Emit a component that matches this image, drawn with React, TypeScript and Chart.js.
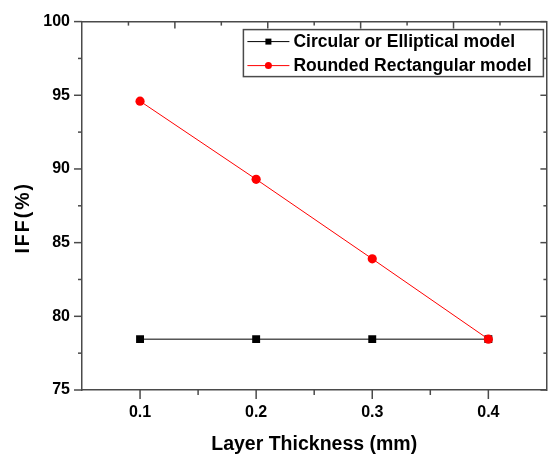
import React, { useEffect, useRef } from 'react';
import { Chart, registerables } from 'chart.js';

Chart.register(...registerables);

// ---- data ----
const layerThickness = [0.1, 0.2, 0.3, 0.4];
const circularIFF = [78.45, 78.45, 78.45, 78.45];
const roundedIFF = [94.6, 89.3, 83.9, 78.45];
const seriesNames = ['Circular or Elliptical model', 'Rounded Rectangular model'];
const xTitle = 'Layer Thickness (mm)';
const yTitle = 'IFF(%)';
const xMajorTicks = [0.1, 0.2, 0.3, 0.4];
const xMinorTicks = [0.15, 0.25, 0.35];
const yMajorTicks = [75, 80, 85, 90, 95, 100];
const yMinorTicks = [77.5, 82.5, 87.5, 92.5, 97.5];
const topMajorTicks = [2, 4, 6, 8];
const topMinorTicks = [1, 3, 5, 7, 9];

const FONT = "'Liberation Sans', Arial, sans-serif";
const AXIS = '#4a4a4a';
const BLACK = '#000000';
const RED = '#ff0000';

const frameTicksPlugin = {
  id: 'frameTicks',
  afterDraw(chart: any) {
    const { ctx, chartArea, scales } = chart;
    const { left, right, top, bottom } = chartArea;
    ctx.save();
    ctx.strokeStyle = AXIS;
    ctx.lineWidth = 1.5;
    const seg = (x1: number, y1: number, x2: number, y2: number) => {
      ctx.beginPath();
      ctx.moveTo(x1, y1);
      ctx.lineTo(x2, y2);
      ctx.stroke();
    };
    xMajorTicks.forEach((v) => {
      const x = scales.x.getPixelForValue(v);
      seg(x, bottom, x, bottom + 9);
    });
    xMinorTicks.forEach((v) => {
      const x = scales.x.getPixelForValue(v);
      seg(x, bottom, x, bottom + 5);
    });
    yMajorTicks.forEach((v) => {
      const y = scales.y.getPixelForValue(v);
      seg(left - 8, y, left, y);
      seg(right, y, right - 6, y);
    });
    yMinorTicks.forEach((v) => {
      const y = scales.y.getPixelForValue(v);
      seg(left - 4, y, left, y);
      seg(right, y, right - 3, y);
    });
    topMajorTicks.forEach((v) => {
      const x = scales.x2.getPixelForValue(v);
      seg(x, top, x, top + 7);
    });
    topMinorTicks.forEach((v) => {
      const x = scales.x2.getPixelForValue(v);
      seg(x, top, x, top + 4);
    });
    ctx.restore();
  },
};

const yTitlePlugin = {
  id: 'yTitle',
  afterDraw(chart: any) {
    const { ctx, chartArea } = chart;
    const cy = (chartArea.top + chartArea.bottom) / 2 + 13;
    ctx.save();
    ctx.translate(24, cy);
    ctx.rotate(-Math.PI / 2);
    ctx.fillStyle = '#000';
    ctx.font = `bold 19.5px ${FONT}`;
    try {
      (ctx as any).letterSpacing = '2px';
    } catch (e) {}
    ctx.textAlign = 'center';
    ctx.textBaseline = 'middle';
    ctx.fillText(yTitle, 1, 0);
    ctx.restore();
  },
};

const boxLegendPlugin = {
  id: 'boxLegend',
  afterDraw(chart: any) {
    const { ctx, chartArea } = chart;
    const boxRight = chartArea.right - 3;
    const boxLeft = boxRight - 300;
    const boxTop = chartArea.top + 8;
    const boxH = 47;
    ctx.save();
    ctx.fillStyle = '#ffffff';
    ctx.fillRect(boxLeft, boxTop, 300, boxH);
    ctx.strokeStyle = AXIS;
    ctx.lineWidth = 1.5;
    ctx.strokeRect(boxLeft, boxTop, 300, boxH);
    const colors = [BLACK, RED];
    seriesNames.forEach((name, i) => {
      const cy = boxTop + 12 + i * 24;
      const lx1 = boxLeft + 4;
      const lx2 = boxLeft + 46;
      const mx = (lx1 + lx2) / 2;
      ctx.strokeStyle = colors[i];
      ctx.lineWidth = 1;
      ctx.beginPath();
      ctx.moveTo(lx1, cy);
      ctx.lineTo(lx2, cy);
      ctx.stroke();
      ctx.fillStyle = colors[i];
      if (i === 0) {
        ctx.fillRect(mx - 3, cy - 3, 6, 6);
      } else {
        ctx.beginPath();
        ctx.arc(mx, cy, 3.5, 0, Math.PI * 2);
        ctx.fill();
      }
      ctx.fillStyle = '#000000';
      ctx.font = `bold 17.5px ${FONT}`;
      ctx.textAlign = 'left';
      ctx.textBaseline = 'middle';
      ctx.fillText(name, boxLeft + 50, cy + 1);
    });
    ctx.restore();
  },
};

export default function App() {
  const canvasRef = useRef<HTMLCanvasElement | null>(null);

  useEffect(() => {
    const canvas = canvasRef.current;
    if (!canvas) return;
    const chart = new Chart(canvas, {
      type: 'line',
      data: {
        datasets: [
          {
            label: seriesNames[0],
            data: layerThickness.map((x, i) => ({ x, y: circularIFF[i] })),
            borderColor: BLACK,
            backgroundColor: BLACK,
            borderWidth: 1,
            pointStyle: 'rect',
            pointRadius: 5.6,
            pointBorderWidth: 0,
            order: 1,
          },
          {
            label: seriesNames[1],
            data: layerThickness.map((x, i) => ({ x, y: roundedIFF[i] })),
            borderColor: RED,
            backgroundColor: RED,
            borderWidth: 1,
            pointStyle: 'circle',
            pointRadius: 4.6,
            pointBorderWidth: 0,
            order: 0,
          },
        ],
      },
      options: {
        animation: false,
        responsive: false,
        layout: { padding: 0 },
        plugins: {
          legend: { display: false },
          tooltip: { enabled: false },
        },
        scales: {
          x: {
            type: 'linear',
            position: 'bottom',
            min: 0.05,
            max: 0.45,
            afterBuildTicks: (scale: any) => {
              scale.ticks = xMajorTicks.map((v) => ({ value: v }));
            },
            afterFit: (scale: any) => {
              scale.height = 66;
            },
            grid: { display: false, drawTicks: false },
            border: { display: true, color: AXIS, width: 1.5 },
            ticks: {
              padding: 13,
              color: '#000',
              font: { family: FONT, size: 16, weight: 'bold' },
              callback: (v: any) => Number(v).toFixed(1),
            },
            title: {
              display: true,
              text: xTitle,
              color: '#000',
              font: { family: FONT, size: 19.5, weight: 'bold' },
              padding: { top: 0, bottom: 0 },
            },
          },
          x2: {
            type: 'linear',
            axis: 'x',
            position: 'top',
            min: 0,
            max: 10,
            afterFit: (scale: any) => {
              scale.height = 19;
            },
            grid: { display: false, drawTicks: false },
            border: { display: true, color: AXIS, width: 1.5 },
            ticks: { display: false },
          },
          y: {
            type: 'linear',
            position: 'left',
            min: 75,
            max: 100,
            afterBuildTicks: (scale: any) => {
              scale.ticks = yMajorTicks.map((v) => ({ value: v }));
            },
            afterFit: (scale: any) => {
              scale.width = 82;
            },
            grid: { display: false, drawTicks: false },
            border: { display: true, color: AXIS, width: 1.5 },
            ticks: {
              padding: 12,
              color: '#000',
              font: { family: FONT, size: 16, weight: 'bold' },
              callback: (v: any) => String(v),
            },
          },
          y2: {
            type: 'linear',
            axis: 'y',
            position: 'right',
            min: 75,
            max: 100,
            afterFit: (scale: any) => {
              scale.width = 5;
            },
            grid: { display: false, drawTicks: false },
            border: { display: true, color: AXIS, width: 1.5 },
            ticks: { display: false },
          },
        },
      } as any,
      plugins: [frameTicksPlugin, yTitlePlugin, boxLegendPlugin],
    });
    return () => {
      chart.destroy();
    };
  }, []);

  return (
    <div style={{ position: 'absolute', left: 0, top: 0, width: 552, height: 456, background: '#ffffff' }}>
      <canvas ref={canvasRef} width={552} height={456} style={{ display: 'block' }} />
    </div>
  );
}
